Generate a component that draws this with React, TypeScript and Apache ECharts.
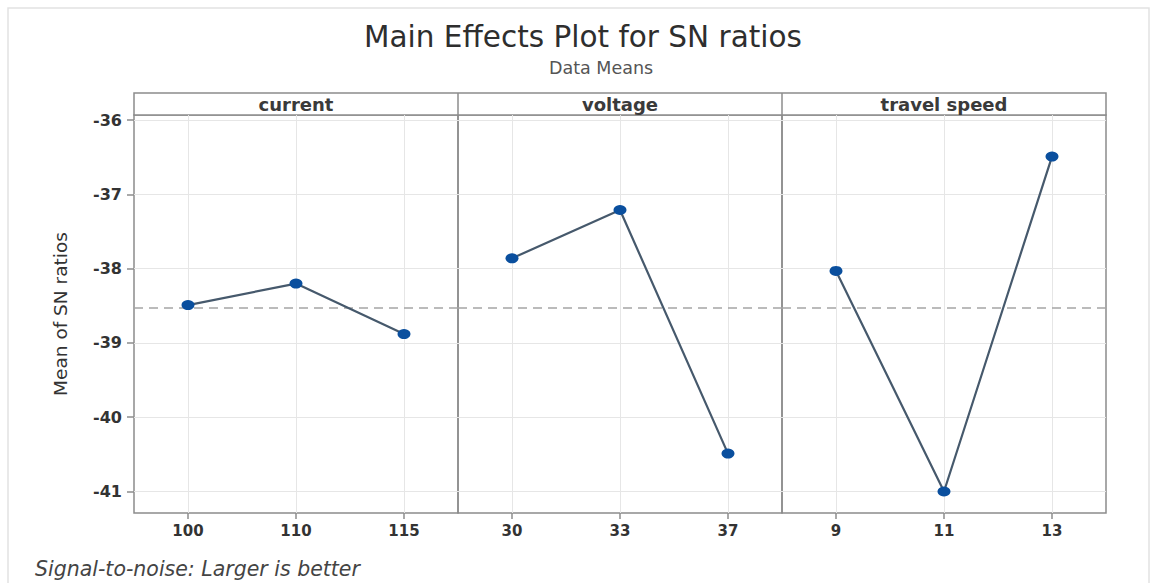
import React, { useEffect, useRef } from "react";
import * as echarts from "echarts";

// ---- data ----
const factorNames = ["current", "voltage", "travel speed"];
const currentLevels = ["100", "110", "115"];
const currentSN = [-38.49, -38.2, -38.88];
const voltageLevels = ["30", "33", "37"];
const voltageSN = [-37.86, -37.21, -40.49];
const speedLevels = ["9", "11", "13"];
const speedSN = [-38.03, -41.0, -36.49];
const overallMean = -38.53;
const yTicks = [-41, -40, -39, -38, -37, -36];
const yMin = -41.29;
const yMax = -35.93;

const FONT = "DejaVu Sans";

export default function App() {
  const ref = useRef<HTMLDivElement>(null);

  useEffect(() => {
    document.body.style.margin = "0";
    if (!ref.current) return;
    const chart = echarts.init(ref.current, null, { renderer: "svg" });

    const panels = [
      { name: factorNames[0], levels: currentLevels, values: currentSN },
      { name: factorNames[1], levels: voltageLevels, values: voltageSN },
      { name: factorNames[2], levels: speedLevels, values: speedSN },
    ];

    const plotLeft = 134;
    const panelW = 324;
    const plotTop = 115;
    const plotH = 398;
    const headerTop = 93;
    const border = "#8c8c8c";
    const gridColor = "#e6e6e6";

    const option: any = {
      animation: false,
      backgroundColor: "#fff",
      textStyle: { fontFamily: FONT },
      title: [
        {
          text: "Main Effects Plot for SN ratios",
          left: 364,
          top: 22,
          padding: 0,
          textStyle: { fontFamily: FONT, fontSize: 29.5, fontWeight: "normal", color: "#2e2e2e" },
        },
        {
          text: "Data Means",
          left: 549,
          top: 59,
          padding: 0,
          textStyle: { fontFamily: FONT, fontSize: 17.5, fontWeight: "normal", color: "#555" },
        },
      ],
      grid: panels.map((_, i) => ({
        left: plotLeft + i * panelW,
        top: plotTop,
        width: panelW,
        height: plotH,
        show: true,
        borderColor: border,
        borderWidth: 1.5,
        backgroundColor: "transparent",
        outerBoundsMode: "none",
        containLabel: false,
      })),
      xAxis: panels.map((p, i) => ({
        type: "category",
        gridIndex: i,
        data: p.levels,
        boundaryGap: true,
        axisLine: { show: false },
        axisTick: { show: true, alignWithLabel: true, length: 6, lineStyle: { color: border, width: 1.5 } },
        axisLabel: { fontFamily: FONT, fontSize: 15, fontWeight: "bold", color: "#333", margin: 10 },
        splitLine: { show: false },
      })),
      yAxis: panels.map((_, i) => ({
        type: "value",
        gridIndex: i,
        min: yMin,
        max: yMax,
        axisLine: { show: false },
        axisTick: {
          show: i === 0,
          customValues: yTicks,
          length: 7,
          lineStyle: { color: border, width: 1.5 },
        },
        axisLabel: {
          show: i === 0,
          customValues: yTicks,
          fontFamily: FONT,
          fontSize: 16,
          fontWeight: "bold",
          color: "#333",
          margin: 12,
        },
        splitLine: { show: true, lineStyle: { color: gridColor, width: 1 } },
        name: i === 0 ? "Mean of SN ratios" : "",
        nameLocation: "middle",
        nameGap: 64,
        nameTextStyle: { fontFamily: FONT, fontSize: 18.5, color: "#333" },
      })),
      series: panels.map((p, i) => ({
        type: "line",
        name: p.name,
        xAxisIndex: i,
        yAxisIndex: i,
        data: p.values,
        symbol: "circle",
        symbolSize: [13, 10],
        itemStyle: { color: "#0a4f9e" },
        lineStyle: { color: "#46596c", width: 2.2 },
        z: 3,
        markLine: {
          silent: true,
          z: 1,
          symbol: ["none", "none"],
          label: { show: false },
          emphasis: { disabled: true },
          data: [
            ...p.levels.map((l) => ({
              xAxis: l,
              lineStyle: { color: gridColor, width: 1, type: "solid" },
            })),
            {
              yAxis: overallMean,
              lineStyle: { color: "#a5a5a5", width: 1.5, type: [9, 6] },
            },
          ],
        },
      })),
      graphic: [
        {
          type: "rect",
          shape: { x: 8, y: 8, width: 1141, height: 600 },
          style: { fill: "none", stroke: "#e2e2e2", lineWidth: 1.5 },
          silent: true,
          z: -1,
        },
        {
          type: "rect",
          shape: { x: plotLeft, y: headerTop, width: panelW * 3, height: plotTop - headerTop },
          style: { fill: "#fff", stroke: border, lineWidth: 1.5 },
          silent: true,
        },
        ...[1, 2].map((k) => ({
          type: "line",
          shape: { x1: plotLeft + k * panelW, y1: headerTop, x2: plotLeft + k * panelW, y2: plotTop },
          style: { stroke: border, lineWidth: 1.5 },
          silent: true,
        })),
        ...panels.map((p, i) => ({
          type: "text",
          x: plotLeft + i * panelW + panelW / 2,
          y: (headerTop + plotTop) / 2,
          style: {
            text: p.name,
            fontFamily: FONT,
            fontSize: 18,
            fontWeight: "bold",
            fill: "#3a3a3a",
            textAlign: "center",
            textVerticalAlign: "middle",
          },
          silent: true,
        })),
        {
          type: "text",
          x: 35,
          y: 569,
          style: {
            text: "Signal-to-noise: Larger is better",
            fontFamily: FONT,
            fontSize: 20.5,
            fontStyle: "italic",
            fill: "#444",
            textAlign: "left",
            textVerticalAlign: "middle",
          },
          silent: true,
        },
      ],
    };

    chart.setOption(option);
    return () => chart.dispose();
  }, []);

  return <div ref={ref} style={{ width: 1153, height: 583 }} />;
}
